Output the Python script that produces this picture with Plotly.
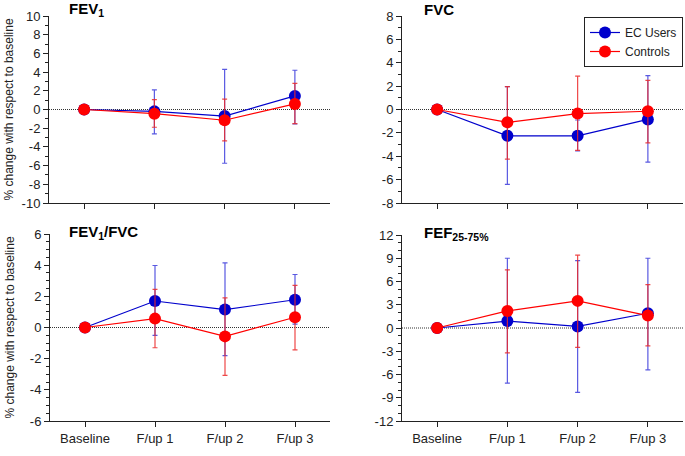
import plotly.graph_objects as go

categories = ["Baseline", "F/up 1", "F/up 2", "F/up 3"]

# FEV1
fev1_ec = [0, -0.2, -0.7, 1.45]
fev1_ec_hi = [0, 2.1, 4.3, 4.2]
fev1_ec_lo = [0, -2.6, -5.75, -1.55]
fev1_ct = [0, -0.45, -1.15, 0.6]
fev1_ct_hi = [0, 1.05, 1.1, 2.8]
fev1_ct_lo = [0, -1.9, -3.35, -1.5]

# FVC
fvc_ec = [0, -2.25, -2.25, -0.85]
fvc_ec_hi = [0, 1.95, -0.9, 2.9]
fvc_ec_lo = [0, -6.4, -3.55, -4.5]
fvc_ct = [0, -1.1, -0.35, -0.15]
fvc_ct_hi = [0, 1.95, 2.85, 2.5]
fvc_ct_lo = [0, -4.25, -3.5, -2.85]

# FEV1/FVC
ratio_ec = [0, 1.7, 1.15, 1.78]
ratio_ec_hi = [0, 3.98, 4.15, 3.4]
ratio_ec_lo = [0, -0.5, -1.8, 0.22]
ratio_ct = [0, 0.57, -0.57, 0.66]
ratio_ct_hi = [0, 2.45, 1.9, 2.7]
ratio_ct_lo = [0, -1.3, -3.07, -1.43]

# FEF25-75%
fef_ec = [0, 0.9, 0.2, 1.9]
fef_ec_hi = [0, 9.0, 8.7, 9.0]
fef_ec_lo = [0, -7.1, -8.3, -5.4]
fef_ct = [0, 2.2, 3.5, 1.6]
fef_ct_hi = [0, 7.5, 9.4, 5.6]
fef_ct_lo = [0, -3.2, -2.5, -2.3]

# y tick values per panel
fev1_ticks = [-10, -8, -6, -4, -2, 0, 2, 4, 6, 8, 10]
fvc_ticks = [-8, -6, -4, -2, 0, 2, 4, 6, 8]
ratio_ticks = [-6, -4, -2, 0, 2, 4, 6]
fef_ticks = [-12, -9, -6, -3, 0, 3, 6, 9, 12]

W, H = 685, 456
BLUE = "#0000CC"
RED = "#FF0000"
BLUE_ERR = "rgba(60,60,220,0.85)"
RED_ERR = "rgba(235,40,40,0.85)"
FONT = "Liberation Sans, Arial, sans-serif"

panels = [
    ("", "<b>FEV<sub>1</sub></b>", fev1_ec, fev1_ec_hi, fev1_ec_lo, fev1_ct, fev1_ct_hi, fev1_ct_lo,
     [-10, 10], fev1_ticks, 1, (49, 330), (16, 203), (67, 9), False),
    ("2", "<b>FVC</b>", fvc_ec, fvc_ec_hi, fvc_ec_lo, fvc_ct, fvc_ct_hi, fvc_ct_lo,
     [-8, 8], fvc_ticks, 1, (402, 683), (16, 203), (422, 9), False),
    ("3", "<b>FEV<sub>1</sub>/FVC</b>", ratio_ec, ratio_ec_hi, ratio_ec_lo, ratio_ct, ratio_ct_hi, ratio_ct_lo,
     [-6, 6], ratio_ticks, 0.5, (50, 330), (234, 421), (67, 232), True),
    ("4", "<b>FEF<sub>25-75%</sub></b>", fef_ec, fef_ec_hi, fef_ec_lo, fef_ct, fef_ct_hi, fef_ct_lo,
     [-12, 12], fef_ticks, 1, (402, 683), (235, 421), (422, 233), True),
]

fig = go.Figure()
layout = {}
annotations = []
shapes = []

for i, (s, title, ec, ech, ecl, ct, cth, ctl, yr, tv, mn, xd, yd, tp, showx) in enumerate(panels):
    xa = "x" + s
    ya = "y" + s
    first = i == 0
    fig.add_trace(go.Scatter(
        x=categories, y=ec, xaxis=xa, yaxis=ya, mode="lines+markers", name="EC Users",
        showlegend=first, line=dict(color=BLUE, width=1.2),
        marker=dict(color=BLUE, size=12),
        error_y=dict(type="data", symmetric=False,
                     array=[h - v for h, v in zip(ech, ec)],
                     arrayminus=[v - l for l, v in zip(ecl, ec)],
                     color=BLUE_ERR, thickness=1.2, width=2.5),
    ))
    fig.add_trace(go.Scatter(
        x=categories, y=ct, xaxis=xa, yaxis=ya, mode="lines+markers", name="Controls",
        showlegend=first, line=dict(color=RED, width=1.2),
        marker=dict(color=RED, size=12),
        error_y=dict(type="data", symmetric=False,
                     array=[h - v for h, v in zip(cth, ct)],
                     arrayminus=[v - l for l, v in zip(ctl, ct)],
                     color=RED_ERR, thickness=1.2, width=2.5),
    ))
    layout["xaxis" + s] = dict(
        domain=[xd[0] / W, xd[1] / W], anchor=ya, type="category",
        range=[-0.5, 3.5], showline=True, linecolor="#222", linewidth=1,
        ticks="outside", ticklen=5, tickcolor="#222", showgrid=False, zeroline=False,
        showticklabels=showx, tickfont=dict(size=13, color="#222", family=FONT),
        fixedrange=True, automargin=False,
    )
    layout["yaxis" + s] = dict(
        domain=[1 - yd[1] / H, 1 - yd[0] / H], anchor=xa,
        range=yr, tickmode="array", tickvals=tv, ticktext=[str(v) for v in tv],
        showline=True, linecolor="#222", linewidth=1,
        ticks="outside", ticklen=5, tickcolor="#222", showgrid=False, zeroline=False,
        tickfont=dict(size=13, color="#222", family=FONT),
        minor=dict(dtick=mn, tick0=0, ticks="outside", ticklen=3, tickcolor="#222", showgrid=False),
        fixedrange=True, automargin=False,
    )
    shapes.append(dict(type="line", xref=xa + " domain", yref=ya, x0=0, x1=1, y0=0, y1=0,
                       line=dict(color="#333", width=1, dash="1px,1px"), layer="below"))
    annotations.append(dict(text=title, x=tp[0] / W, y=1 - tp[1] / H, xref="paper", yref="paper",
                            xanchor="left", yanchor="middle", showarrow=False,
                            font=dict(size=15, color="#000", family=FONT)))

for yc in [(16 + 203) / 2, (234 + 421) / 2]:
    annotations.append(dict(text="% change with respect to baseline", x=9 / W, y=1 - yc / H,
                            xref="paper", yref="paper", xanchor="center", yanchor="middle",
                            textangle=-90, showarrow=False,
                            font=dict(size=12, color="#222", family=FONT)))

fig.update_layout(
    **layout,
    width=W, height=H,
    margin=dict(l=0, r=0, t=0, b=0, autoexpand=False),
    paper_bgcolor="white", plot_bgcolor="white",
    font=dict(family=FONT, color="#222"),
    shapes=shapes, annotations=annotations,
    legend=dict(x=683 / W, y=1 - 17 / H, xanchor="right", yanchor="top",
                bordercolor="#222", borderwidth=1, bgcolor="white",
                font=dict(size=12, color="#222", family=FONT),
                itemwidth=30, tracegroupgap=0),
)

fig.write_html("out.html", config={"displayModeBar": False, "staticPlot": True},
               post_script="document.body.style.margin='0';document.body.style.padding='0';")
